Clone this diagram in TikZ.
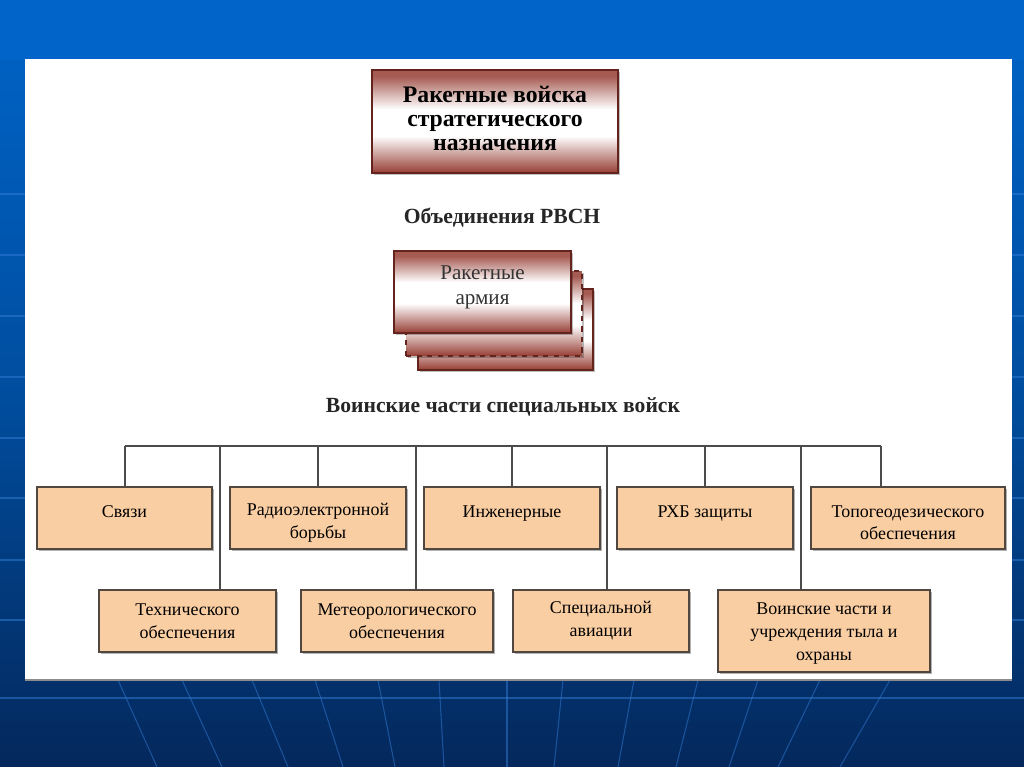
\documentclass[tikz,border=0pt]{standalone}
\usepackage{fontspec}
\setmainfont{Liberation Serif}
\usetikzlibrary{shadows}
\definecolor{bgtop}{RGB}{0,100,200}
\definecolor{bgmid}{RGB}{0,78,160}
\definecolor{bgbot}{RGB}{4,40,92}
\definecolor{gridc}{RGB}{50,125,215}
\definecolor{boxred}{RGB}{150,62,52}
\definecolor{redline}{RGB}{100,35,28}
\definecolor{peach}{RGB}{250,206,163}
\definecolor{peachline}{RGB}{80,72,64}
\definecolor{wire}{RGB}{75,75,75}
\newcommand\tpad{\rule{0pt}{12pt}}
\pgfdeclareverticalshading{redbox}{100bp}{color(0bp)=(boxred); color(25bp)=(boxred); color(43bp)=(white); color(56bp)=(white); color(72bp)=(boxred!85); color(100bp)=(boxred!85)}
\tikzset{
  grid line/.style={draw=gridc, line width=0.6pt, opacity=0.5},
  redbox/.style={draw=redline, line width=1.3pt, shading=redbox, inner sep=0pt, align=center,
    drop shadow={shadow xshift=1.2pt, shadow yshift=-1.2pt, opacity=0.25, fill=black}},
  peachbox/.style={draw=peachline, line width=1.1pt, fill=peach, inner sep=0pt, align=center,
    font=\fontsize{10.2}{13}\selectfont, minimum height=1.24cm,
    drop shadow={shadow xshift=1pt, shadow yshift=-1pt, opacity=0.3, fill=black}},
  heading/.style={font=\bfseries\fontsize{12.3}{14}\selectfont, text=black!85},
  wire/.style={draw=wire, line width=1.1pt}
}
\begin{document}
\begin{tikzpicture}[x=0.02cm,y=-0.02cm]
\useasboundingbox (0,0) rectangle (1024,767);
% background
\shade[top color=bgtop, bottom color=bgbot, middle color=bgmid] (0,0) rectangle (1024,767);
\fill[bgtop] (0,0) rectangle (1024,60);
\foreach \yy in {194,255,316,377,438,498,560,620} {
  \draw[grid line] (0,\yy) -- (25,\yy);
  \draw[grid line] (1012,\yy) -- (1024,\yy);
}
\draw[grid line] (0,698) -- (1024,698);
\foreach \xa/\xb in {118/157,182/222,252/288,315/343,378/395,439/444,507/507,563/554,634/618,698/676,758/729,820/778,890/840} {
  \draw[grid line] (\xa,680) -- (\xb,767);
}
% panel
\fill[white] (25,59) rectangle (1012,680);
\draw[black!45, line width=0.8pt] (25,680) -- (1012,680);

% top box
\node[redbox, font=\bfseries\fontsize{13.5}{13.8}\selectfont, minimum width=4.92cm, minimum height=2.06cm] (rvsn) at (495,121.5) {Ракетные войска\\стратегического\\назначения\\[-10.4pt]\mbox{}};

\node[heading] (obed) at (502,218) {Объединения РВСН};

% stacked armies
\node[redbox, minimum width=3.5cm, minimum height=1.62cm] (army3) at (505.5,329.5) {};
\node[redbox, dashed, line width=1.1pt, minimum width=3.52cm, minimum height=1.7cm] (army2) at (494,313.5) {};
\node[redbox, font=\fontsize{12}{14.5}\selectfont, text=black!80, minimum width=3.54cm, minimum height=1.64cm] (army1) at (482.5,292) {Ракетные\\армия\\[-6.5pt]\mbox{}};

\node[heading] (vchasti) at (503,407) {Воинские части специальных войск};

% top row
\node[peachbox, minimum width=3.5cm]  (svyaz) at (124.5,518) {\tpad Связи\\\mbox{}};
\node[peachbox, minimum width=3.52cm] (reb)   at (318,518)   {\tpad Радиоэлектронной\\борьбы};
\node[peachbox, minimum width=3.52cm] (inzh)  at (512,518)   {\tpad Инженерные\\\mbox{}};
\node[peachbox, minimum width=3.52cm] (rhb)   at (705,518)   {\tpad РХБ защиты\\\mbox{}};
\node[peachbox, minimum width=3.88cm] (topo)  at (908,518)   {\tpad Топогеодезического\\обеспечения};
% bottom row
\node[peachbox, minimum width=3.54cm] (tech)  at (187.5,621) {Технического\\обеспечения};
\node[peachbox, minimum width=3.84cm] (meteo) at (397,621)   {Метеорологического\\обеспечения};
\node[peachbox, minimum width=3.52cm] (spec)  at (601,621)   {Специальной\\авиации};
\node[peachbox, minimum width=4.24cm, minimum height=1.64cm] (tyl) at (824,631) {\rule{0pt}{9.5pt}Воинские части и\\учреждения тыла и\\охраны};

% bus
\coordinate (busL) at (125,446);
\coordinate (busR) at (881,446);
\coordinate (j1) at (220,446);
\coordinate (j2) at (416,446);
\coordinate (j3) at (607,446);
\coordinate (j4) at (801,446);
\draw[wire] (busL) -- (busR);
\draw[wire] (busL) -- (busL |- svyaz.north);
\draw[wire] (reb.north |- busL) -- (reb.north);
\draw[wire] (inzh.north |- busL) -- (inzh.north);
\draw[wire] (rhb.north |- busL) -- (rhb.north);
\draw[wire] (busR) -- (busR |- topo.north);
\draw[wire] (j1) -- (j1 |- tech.north);
\draw[wire] (j2) -- (j2 |- meteo.north);
\draw[wire] (j3) -- (j3 |- spec.north);
\draw[wire] (j4) -- (j4 |- tyl.north);
\end{tikzpicture}
\end{document}
